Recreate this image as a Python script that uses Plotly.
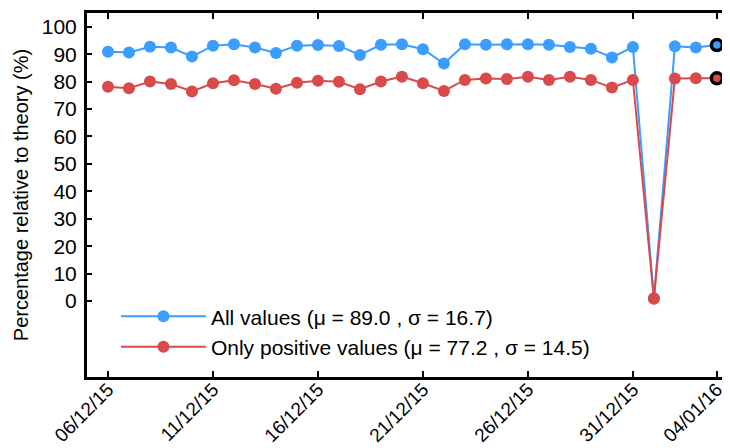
import pandas as pd
import plotly.graph_objects as go

# one reading per day, 06/12/15 .. 04/01/16
days = pd.date_range("2015-12-06", "2016-01-04", freq="D")

all_values = [90.9, 90.6, 92.7, 92.4, 89.1, 93.1, 93.6, 92.4, 90.4, 93.1,
              93.3, 93.0, 89.7, 93.4, 93.6, 91.8, 86.6, 93.6, 93.4, 93.6,
              93.6, 93.4, 92.6, 92.0, 88.8, 92.6, 1.0, 92.9, 92.4, 93.3]
positive_values = [78.1, 77.6, 80.0, 79.1, 76.4, 79.4, 80.5, 79.1, 77.4, 79.6,
                   80.3, 79.9, 77.2, 80.0, 81.8, 79.4, 76.6, 80.6, 81.1, 80.9,
                   81.8, 80.6, 81.8, 80.6, 77.8, 80.6, 0.8, 81.1, 81.2, 81.2]

series_names = ["All values (μ = 89.0 , σ = 16.7)",
                "Only positive values (μ = 77.2 , σ = 14.5)"]
tick_dates = ["2015-12-06", "2015-12-11", "2015-12-16", "2015-12-21",
              "2015-12-26", "2015-12-31", "2016-01-04"]
tick_labels = ["06/12/15", "11/12/15", "16/12/15", "21/12/15",
               "26/12/15", "31/12/15", "04/01/16"]

BLUE = "#3A9DFF"
RED = "#D94A4B"
FONT = "Liberation Sans, Arial, sans-serif"

fig = go.Figure()
for ys, name, col in [(all_values, series_names[0], BLUE),
                      (positive_values, series_names[1], RED)]:
    fig.add_trace(go.Scatter(
        x=days, y=ys, name=name, mode="lines+markers",
        line=dict(color=col, width=2),
        marker=dict(color=col, size=12),
    ))
    # latest reading gets a black ring
    fig.add_trace(go.Scatter(
        x=days[-1:], y=ys[-1:], mode="markers", showlegend=False,
        marker=dict(color=col, size=11, line=dict(color="black", width=3.5)),
    ))

# the page body keeps its default 8px margin, so the figure is 8px smaller
fig.update_layout(
    width=722, height=440,
    margin=dict(l=79, r=0, t=5, b=71),
    plot_bgcolor="white", paper_bgcolor="white",
    font=dict(family=FONT, size=19, color="black"),
    showlegend=True,
    legend=dict(x=0.045, y=0.222, yanchor="top", xanchor="left",
                bgcolor="rgba(0,0,0,0)", font=dict(size=21),
                itemwidth=85),
)
fig.update_xaxes(
    automargin=False,
    range=["2015-12-05 00:00", "2016-01-04 15:00"],
    tickvals=tick_dates, ticktext=tick_labels, tickangle=-45,
    tickfont=dict(size=19), ticklabelstandoff=-9,
    showgrid=False, zeroline=False,
    showline=True, linecolor="black", linewidth=3, mirror="ticks",
    ticks="inside", ticklen=6, tickwidth=2, tickcolor="black",
)
fig.update_yaxes(
    automargin=False,
    range=[-27.7, 105], tickvals=list(range(0, 101, 10)),
    tickfont=dict(size=21), ticklabelstandoff=3,
    title=dict(text="Percentage relative to theory (%)", font=dict(size=20), standoff=8),
    showgrid=False, zeroline=False,
    showline=True, linecolor="black", linewidth=3,
    ticks="inside", ticklen=5, tickwidth=2, tickcolor="black",
)

fig.write_html("out.html")
